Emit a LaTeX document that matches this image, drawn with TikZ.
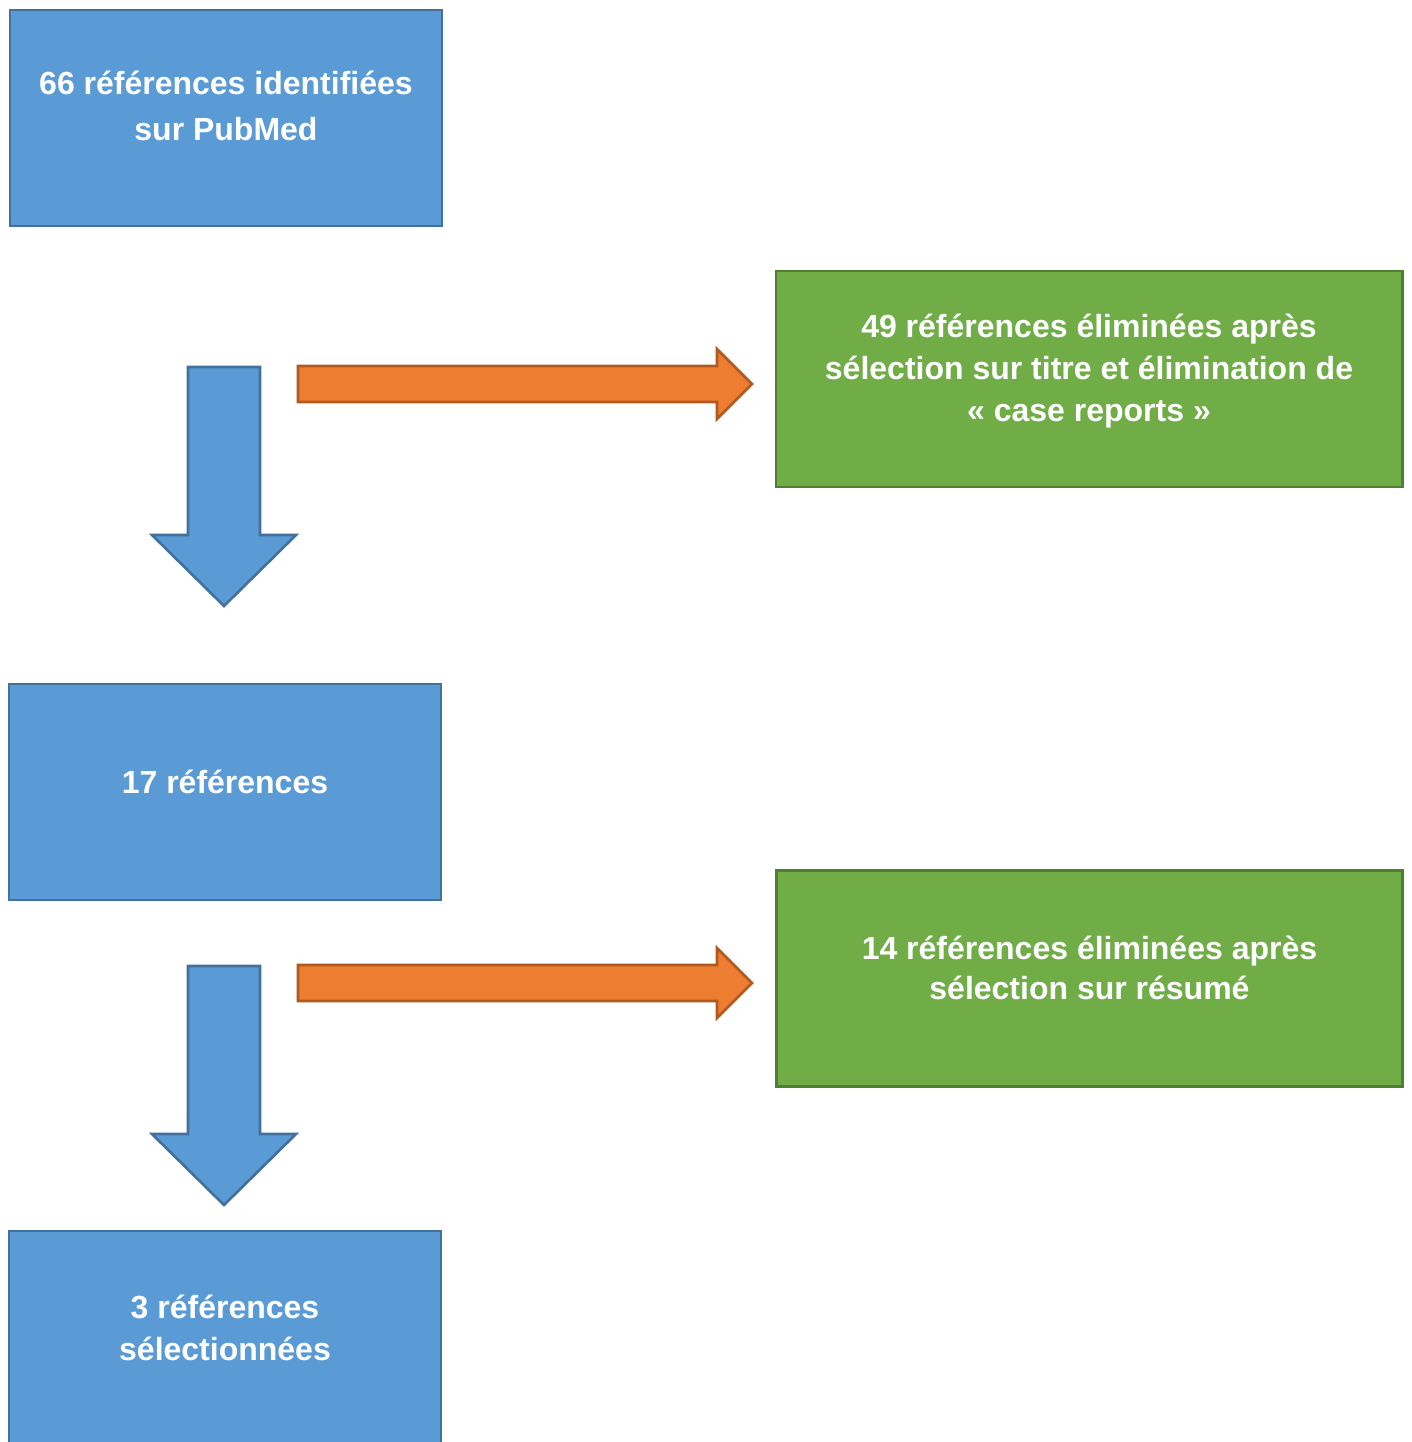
\documentclass[tikz,border=0pt]{standalone}
\usepackage{fontspec}
\setmainfont{Liberation Sans}
\usetikzlibrary{positioning}

\definecolor{boxblue}{HTML}{5B9BD5}
\definecolor{lineblue}{HTML}{41719C}
\definecolor{boxgreen}{HTML}{70AD47}
\definecolor{linegreen}{HTML}{507E32}
\definecolor{arroworange}{HTML}{ED7D31}
\definecolor{lineorange}{HTML}{AE5A21}

\begin{document}
\begin{tikzpicture}[x=0.01cm,y=-0.01cm,line width=0.75pt,line join=miter]
          \tikzstyle{bluebox}=[draw=lineblue,fill=boxblue,minimum width=4.32cm,minimum height=2.16cm,inner sep=0pt]
          \tikzstyle{greenbox}=[draw=linegreen,fill=boxgreen,minimum width=6.26cm,minimum height=2.16cm,inner sep=0pt]
          \tikzstyle{boxtext}=[text=white,align=center,inner sep=0pt,font=\bfseries\fontsize{9.1}{12}\selectfont]
          \tikzstyle{downarrow}=[draw=lineblue,fill=boxblue]
          \tikzstyle{rightarrow}=[draw=lineorange,fill=arroworange]
          \useasboundingbox (0,0) rectangle (1411,1442);

          % boxes
          \node[bluebox]  (ident)   at (226,118)    {};
          \node[greenbox] (elimA)   at (1089,379)   {};
          \node[bluebox]  (keptA)   at (225,792)    {};
          \node[greenbox] (elimB)   at (1089.5,978.5) {};
          \node[bluebox]  (keptB)   at (225,1339)   {};

          % texts
          \node[boxtext,font=\bfseries\fontsize{9.1}{13}\selectfont] (identtxt) at (226,106) {66 références identifiées\\sur PubMed};
          \node[boxtext] (elimAtxt) at (1089,371) {49 références éliminées après\\sélection sur titre et élimination de\\« case reports »};
          \node[boxtext] (keptAtxt) at (225,782)  {17 références};
          \node[boxtext,font=\bfseries\fontsize{9.1}{11.4}\selectfont] (elimBtxt) at (1089.5,968) {14 références éliminées après\\sélection sur résumé};
          \node[boxtext] (keptBtxt) at (225,1328) {3 références\\sélectionnées};

          % block arrows
          \foreach \dy in {0,599} {
            \draw[downarrow] (188,367+\dy) -- (260,367+\dy) -- (260,535+\dy) -- (296,535+\dy)
                  -- (224,606+\dy) -- (152,535+\dy) -- (188,535+\dy) -- cycle;
            \draw[rightarrow] (298,366+\dy) -- (717,366+\dy) -- (717,349+\dy) -- (752,384+\dy)
                  -- (717,419+\dy) -- (717,402+\dy) -- (298,402+\dy) -- cycle;
          }

        \end{tikzpicture}
\end{document}
